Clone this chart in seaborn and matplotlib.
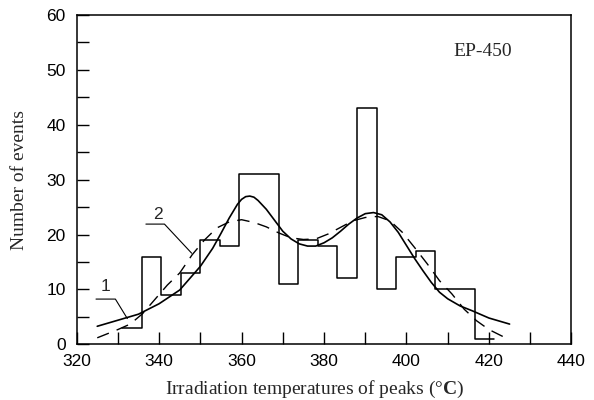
import numpy as np
import matplotlib
matplotlib.use("Agg")
import matplotlib.pyplot as plt
import seaborn as sns
from matplotlib.ticker import MultipleLocator

# histogram (bins of 4.75 degC)
bin_edges = [331.0, 335.75, 340.5, 345.25, 350.0, 354.75, 359.5, 364.25, 369.0, 373.75,
             378.5, 383.25, 388.0, 392.75, 397.5, 402.25, 407.0, 411.75, 416.5, 421.25]
counts = [3, 16, 9, 13, 19, 18, 31, 31, 11, 19, 18, 12, 43, 10, 16, 17, 10, 10, 1]

# curve 1 (solid)
curve1_x = [325, 330, 335, 340, 345, 350, 353, 355, 357, 359, 360, 361, 362, 363, 364, 366, 368, 370,
            372, 374, 376, 378, 380, 382, 384, 386, 388, 390, 392, 394, 396, 398, 400,
            402, 404, 406, 408, 410, 413, 416, 420, 425]
curve1_y = [3.3, 4.4, 5.5, 7.4, 9.9, 14.2, 17.5, 20.2, 23.0, 25.5, 26.4, 26.9, 27.0, 26.8, 26.2, 24.6, 22.6, 20.6,
            19.2, 18.3, 17.9, 17.9, 18.5, 19.4, 20.6, 21.9, 23.0, 23.8, 24.0, 23.6, 22.3, 20.4, 18.0,
            15.6, 13.4, 11.3, 9.5, 8.3, 7.0, 6.1, 4.8, 3.7]

# curve 2 (dashed)
curve2_x = [325, 330, 333, 336, 339, 342, 345, 348, 351, 354, 357, 360, 363, 366, 369,
            372, 375, 378, 381, 384, 387, 390, 393, 396, 399, 402, 405, 408, 411, 414,
            417, 420, 424]
curve2_y = [1.2, 2.7, 3.7, 5.6, 8.2, 10.8, 13.0, 16.3, 19.0, 21.2, 22.3, 22.7, 22.2, 21.4, 20.3,
            19.4, 19.1, 19.2, 20.1, 21.3, 22.5, 23.1, 23.3, 22.5, 20.4, 17.6, 14.7, 11.6, 9.2, 6.4,
            4.3, 2.7, 1.2]

sns.set_style("ticks")
plt.rcParams["font.family"] = ["Liberation Sans", "DejaVu Sans"]
plt.rcParams["mathtext.fontset"] = "custom"
plt.rcParams["mathtext.rm"] = "Liberation Serif"
plt.rcParams["mathtext.bf"] = "Liberation Serif:bold"
serif = ["Liberation Serif", "DejaVu Serif"]

fig = plt.figure(figsize=(5.94, 4.0), dpi=100)
ax = fig.add_axes([0.129, 0.139, 0.833, 0.824])

centers = [(a + b) / 2 for a, b in zip(bin_edges[:-1], bin_edges[1:])]
sns.histplot(x=centers, weights=counts, bins=bin_edges, element="step", fill=False,
             color="black", linewidth=1.1, ax=ax)
sns.lineplot(x=curve1_x, y=curve1_y, color="black", linewidth=1.2, ax=ax)
sns.lineplot(x=curve2_x, y=curve2_y, color="black", linewidth=1.0,
             linestyle=(0, (9, 6)), ax=ax)

# leader lines for curve labels
ax.plot([324.7, 329.4, 332.3], [8.25, 8.25, 4.7], color="black", lw=0.8)
ax.text(326.9, 10.5, "1", ha="center", va="center", fontsize=12.5)
ax.plot([336.8, 341.3, 347.9], [21.9, 21.9, 16.6], color="black", lw=0.8)
ax.text(339.7, 23.7, "2", ha="center", va="center", fontsize=12.5)

ax.text(418.5, 53.3, "EP-450", ha="center", va="center", fontsize=14, family=serif)

ax.set_xlim(320, 440)
ax.set_ylim(0, 60)
ax.xaxis.set_major_locator(MultipleLocator(20))
ax.xaxis.set_minor_locator(MultipleLocator(10))
ax.yaxis.set_major_locator(MultipleLocator(10))
ax.yaxis.set_minor_locator(MultipleLocator(5))
ax.tick_params(which="both", direction="in", length=8.5, width=1.0, colors="black",
               top=False, right=False)
ax.tick_params(axis="x", which="major", labelsize=12.5, pad=7)
ax.tick_params(axis="y", which="major", labelsize=12.5, pad=8)
for s in ax.spines.values():
    s.set_linewidth(1.1)
    s.set_color("black")

ax.set_xlabel("Irradiation temperatures of peaks (°$\\mathbf{C}$)", fontsize=14,
              family=serif)
ax.xaxis.label.set_va("baseline")
ax.xaxis.set_label_coords(0.48, -0.149)
ax.set_ylabel("Number of events", fontsize=14, family=serif)
ax.yaxis.set_label_coords(-0.098, 0.5)

fig.savefig("out.png", dpi=100)
